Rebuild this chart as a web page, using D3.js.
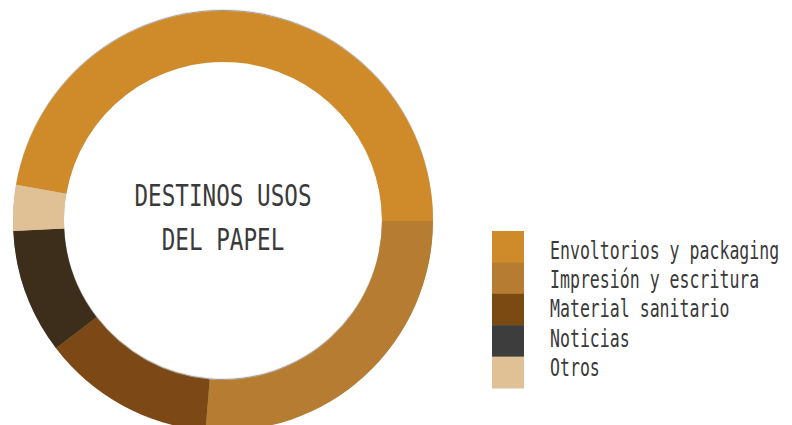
<!DOCTYPE html>
<html lang="es">
<head>
<meta charset="UTF-8">
<title>Destinos usos del papel</title>
<script src="https://cdn.jsdelivr.net/npm/d3@7"></script>
<style>
  body { margin: 0; background: #fff; }
  text { font-family: "DejaVu Sans Mono", monospace; fill: #3a3a3a; }
</style>
</head>
<body>
<script>
let width = 792;
let height = 425;

let categories = ['Envoltorios y packaging', 'Impresión y escritura', 'Material sanitario', 'Noticias', 'Otros'];
let values = [47.2, 26.3, 13.3, 9.6, 3.5];
let legendColors = ['#cf8b2a', '#b67d32', '#7b4a13', '#3d3d3d', '#e0c095'];
let arcColors = ['#cf8b2a', '#b67d32', '#7b4a13', '#3d2e1e', '#e0c095'];
let titleLines = ['DESTINOS USOS', 'DEL PAPEL'];

let cx = 223, cy = 221;
let outerR = 210, innerR = 159;

let svg = d3.select('body').append('svg')
  .attr('width', width)
  .attr('height', height);

let defs = svg.append('defs');
let shadow = defs.append('filter')
  .attr('id', 'shadow')
  .attr('x', '-10%').attr('y', '-10%')
  .attr('width', '120%').attr('height', '120%');
shadow.append('feDropShadow')
  .attr('dx', 0).attr('dy', -1.2)
  .attr('stdDeviation', 0.6)
  .attr('flood-color', '#000')
  .attr('flood-opacity', 0.4);

// first slice ends at 3 o'clock
let total = d3.sum(values);
let start = Math.PI / 2 - 2 * Math.PI * values[0] / total;

let pie = d3.pie()
  .sort(null)
  .startAngle(start)
  .endAngle(start + 2 * Math.PI);

let arc = d3.arc()
  .innerRadius(innerR)
  .outerRadius(outerR);

let ring = svg.append('g')
  .attr('transform', 'translate(' + cx + ',' + cy + ')')
  .attr('filter', 'url(#shadow)');

ring.selectAll('path')
  .data(pie(values))
  .enter()
  .append('path')
  .attr('d', arc)
  .attr('fill', function (d, i) { return arcColors[i]; });

// title in the hole
let title = svg.append('g')
  .attr('transform', 'translate(' + cx + ',0) scale(0.73,1)');

title.selectAll('text')
  .data(titleLines)
  .enter()
  .append('text')
  .attr('x', 0)
  .attr('y', function (d, i) { return 206 + i * 44.5; })
  .attr('text-anchor', 'middle')
  .attr('font-size', 31)
  .text(function (d) { return d; });

// legend
let boxY = d3.scaleBand()
  .domain(categories)
  .range([231, 388]);

let textY = d3.scalePoint()
  .domain(categories)
  .range([258.5, 376]);

let legend = svg.append('g');

legend.selectAll('rect')
  .data(categories)
  .enter()
  .append('rect')
  .attr('x', 492)
  .attr('y', function (d) { return boxY(d); })
  .attr('width', 32)
  .attr('height', boxY.bandwidth() + 0.5)
  .attr('fill', function (d, i) { return legendColors[i]; });

legend.selectAll('text')
  .data(categories)
  .enter()
  .append('text')
  .attr('transform', function (d) {
    return 'translate(550,' + textY(d) + ') scale(0.69,1)';
  })
  .attr('font-size', 24)
  .text(function (d) { return d; });
</script>
</body>
</html>
